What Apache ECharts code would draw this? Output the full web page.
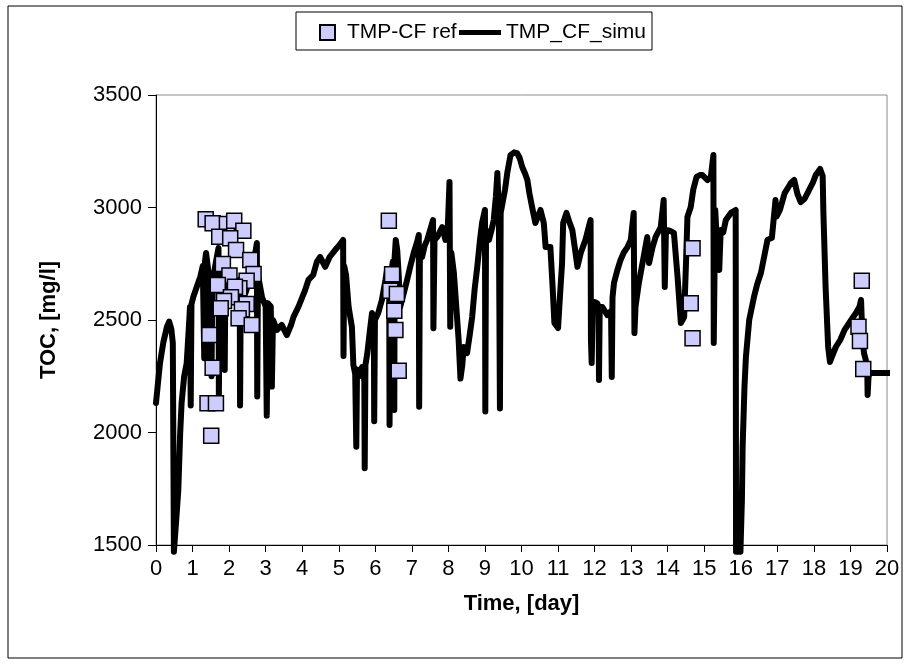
<!DOCTYPE html>
<html>
<head>
<meta charset="utf-8">
<script src="https://cdn.jsdelivr.net/npm/echarts@6/dist/echarts.min.js"></script>
<style>
  html, body { margin: 0; padding: 0; background: #fff; }
  #main { width: 910px; height: 666px; }
</style>
</head>
<body>
<div id="main"></div>
<script>
// measured TOC reference points [day, mg/l]
var refPoints = [
  [1.36, 2948], [1.55, 2930], [1.94, 2927], [2.14, 2941], [2.39, 2897],
  [1.73, 2870], [2.03, 2863], [2.19, 2811], [2.58, 2767], [1.83, 2749],
  [2.67, 2704], [2.01, 2698], [2.48, 2675], [1.69, 2656], [2.28, 2641],
  [2.16, 2648], [2.05, 2601], [1.86, 2584], [2.48, 2571], [1.77, 2552],
  [2.35, 2548], [2.26, 2508], [2.62, 2478], [1.46, 2433], [1.55, 2288],
  [1.41, 2130], [1.64, 2130], [1.51, 1986],
  [6.37, 2941], [6.46, 2703], [6.41, 2630], [6.59, 2616], [6.52, 2541],
  [6.55, 2456], [6.64, 2275],
  [14.68, 2819], [14.63, 2574], [14.68, 2419],
  [19.31, 2675], [19.22, 2470], [19.26, 2407], [19.35, 2282]
];

// simulated TOC [day, mg/l]
var simuPoints = [
  [0, 2131], [0.06, 2230], [0.11, 2309], [0.2, 2400], [0.3, 2470], [0.36, 2493],
  [0.42, 2460], [0.46, 2398], [0.49, 1470], [0.53, 1470], [0.57, 1650], [0.61, 1744],
  [0.66, 1990], [0.7, 2131], [0.77, 2250], [0.84, 2309], [0.9, 2470], [0.93, 2558],
  [0.95, 2120], [0.97, 2570], [1.02, 2602], [1.1, 2640], [1.21, 2691], [1.28, 2740],
  [1.32, 2330], [1.34, 2760], [1.37, 2798], [1.43, 2720], [1.45, 2270], [1.48, 2700],
  [1.52, 2250], [1.54, 2660], [1.62, 2740], [1.71, 2820], [1.72, 2160], [1.75, 2760],
  [1.84, 2700], [1.88, 2278], [1.9, 2690], [2.0, 2660], [2.1, 2700], [2.2, 2640],
  [2.29, 2680], [2.3, 2120], [2.32, 2660], [2.45, 2620], [2.6, 2700], [2.7, 2780],
  [2.76, 2842], [2.77, 2160], [2.79, 2700], [2.9, 2602], [3.0, 2560], [3.03, 2075],
  [3.06, 2575], [3.14, 2560], [3.17, 2204], [3.2, 2500], [3.31, 2456], [3.44, 2478],
  [3.58, 2433], [3.7, 2480], [3.76, 2513], [3.9, 2560], [4.08, 2633], [4.17, 2678],
  [4.3, 2700], [4.4, 2758], [4.49, 2780], [4.63, 2736], [4.75, 2780], [4.9, 2811],
  [5.02, 2833], [5.12, 2856],
  [5.13, 2340], [5.15, 2740], [5.2, 2700], [5.27, 2558], [5.36, 2469], [5.4, 2300],
  [5.45, 2260], [5.48, 1937], [5.5, 2280], [5.56, 2250], [5.64, 2291], [5.7, 2230],
  [5.71, 1841], [5.73, 2300], [5.78, 2350], [5.85, 2450], [5.91, 2531], [5.96, 2500],
  [5.97, 2050], [5.99, 2500], [6.08, 2531], [6.18, 2589], [6.28, 2680], [6.32, 2722],
  [6.38, 2690], [6.39, 2033], [6.41, 2678], [6.48, 2760], [6.51, 2740], [6.52, 2100],
  [6.53, 2780], [6.56, 2856], [6.6, 2810], [6.64, 2700], [6.68, 2558], [6.78, 2620],
  [6.87, 2678], [6.96, 2740], [7.05, 2798], [7.15, 2850], [7.19, 2878], [7.2, 2115],
  [7.22, 2800], [7.28, 2780], [7.35, 2830], [7.42, 2856], [7.5, 2900], [7.58, 2944],
  [7.59, 2463], [7.62, 2856], [7.7, 2870], [7.83, 2913], [7.92, 2856], [7.98, 2900],
  [8.03, 3113], [8.05, 2470], [8.08, 2800], [8.15, 2709], [8.22, 2550], [8.28, 2411],
  [8.33, 2240], [8.38, 2300], [8.42, 2380], [8.51, 2353], [8.58, 2430], [8.65, 2513],
  [8.72, 2640], [8.79, 2736], [8.86, 2850], [8.92, 2931], [9.0, 2989], [9.01, 2093],
  [9.03, 2900], [9.11, 2856], [9.18, 2900], [9.24, 2944], [9.3, 3050], [9.34, 3153],
  [9.38, 2980], [9.41, 2107], [9.43, 2976], [9.47, 2976], [9.55, 3080], [9.61, 3153],
  [9.7, 3233], [9.8, 3245], [9.88, 3242], [9.95, 3220], [10.02, 3180], [10.1, 3150],
  [10.16, 3122], [10.22, 3060], [10.29, 3002], [10.38, 2931], [10.45, 2960], [10.52, 2989],
  [10.61, 2931], [10.66, 2824], [10.79, 2824], [10.85, 2650], [10.9, 2487], [11.0, 2464],
  [11.05, 2600], [11.11, 2753], [11.14, 2931], [11.23, 2976], [11.3, 2940], [11.39, 2900],
  [11.46, 2820], [11.53, 2736], [11.62, 2798], [11.75, 2856], [11.85, 2920], [11.89, 2944],
  [11.9, 2411], [11.92, 2309], [11.95, 2560], [12.0, 2580], [12.07, 2575], [12.11, 2560],
  [12.12, 2233], [12.14, 2558], [12.21, 2558], [12.35, 2522], [12.45, 2540], [12.47, 2247],
  [12.49, 2600], [12.53, 2664], [12.62, 2720], [12.71, 2767], [12.8, 2800], [12.9, 2824],
  [12.99, 2856], [13.07, 2976], [13.09, 2442], [13.12, 2560], [13.21, 2664], [13.33, 2770],
  [13.44, 2869], [13.49, 2753], [13.58, 2820], [13.67, 2869], [13.81, 2913], [13.89, 3033],
  [13.92, 2647], [13.95, 2880], [13.99, 2900], [14.08, 2895], [14.17, 2887], [14.27, 2691],
  [14.36, 2487], [14.45, 2513], [14.5, 2750], [14.54, 2958], [14.63, 3002], [14.7, 3080],
  [14.79, 3136], [14.88, 3144], [14.95, 3144], [15.09, 3122], [15.18, 3136], [15.25, 3233],
  [15.26, 2398], [15.3, 2989], [15.36, 2800], [15.41, 2722], [15.45, 2900], [15.52, 2890],
  [15.59, 2944], [15.73, 2976], [15.86, 2989], [15.87, 1470], [15.99, 1470], [16.03, 1700],
  [16.05, 1936], [16.1, 2200], [16.14, 2336], [16.23, 2500], [16.36, 2602], [16.45, 2660],
  [16.55, 2709], [16.65, 2790], [16.73, 2856], [16.85, 2865], [16.9, 2869], [16.95, 3033],
  [16.98, 2960], [17.07, 2989], [17.2, 3064], [17.3, 3090], [17.37, 3109], [17.46, 3122],
  [17.55, 3060], [17.64, 3024], [17.75, 3040], [17.87, 3078], [17.97, 3110], [18.05, 3144],
  [18.17, 3171], [18.24, 3140], [18.26, 2976], [18.32, 2647], [18.39, 2380], [18.44, 2313],
  [18.5, 2340], [18.6, 2380], [18.72, 2411], [18.84, 2456], [19.02, 2500], [19.15, 2531],
  [19.25, 2560], [19.29, 2589], [19.31, 2500], [19.33, 2424], [19.37, 2353], [19.42, 2322],
  [19.46, 2280], [19.47, 2167], [19.5, 2264], [20.27, 2264]
];

var xTicks = { min: 0, max: 20, step: 1 };
var yTicks = { min: 1500, max: 3500, step: 500 };

var font = "'Liberation Sans', Arial, sans-serif";
var legendText = { fontSize: 21, color: '#000', fontFamily: font };

var myChart = echarts.init(document.getElementById('main'));

var option = {
  backgroundColor: '#fff',
  animation: false,
  textStyle: { fontFamily: font },
  graphic: [
    {
      type: 'rect',
      shape: { x: 8, y: 6, width: 894, height: 652 },
      style: { fill: 'none', stroke: '#000', lineWidth: 1 },
      silent: true
    },
    {
      type: 'rect',
      shape: { x: 296, y: 12, width: 356, height: 38 },
      style: { fill: 'none', stroke: '#000', lineWidth: 1 },
      silent: true
    }
  ],
  legend: [
    {
      left: 319,
      top: 22,
      padding: 0,
      itemWidth: 15,
      itemHeight: 15,
      textStyle: Object.assign({ padding: [0, 0, 0, 7] }, legendText),
      data: [{ name: 'TMP-CF ref', icon: 'rect' }]
    },
    {
      left: 459,
      top: 22,
      padding: 0,
      itemWidth: 42,
      itemHeight: 5,
      textStyle: legendText,
      data: [{ name: 'TMP_CF_simu', icon: 'rect', itemStyle: { color: '#000' } }]
    }
  ],
  grid: {
    left: 156,
    right: 23,
    top: 95,
    bottom: 121,
    show: true,
    borderColor: '#8c8c8c',
    borderWidth: 1
  },
  xAxis: {
    type: 'value',
    min: xTicks.min,
    max: xTicks.max,
    interval: xTicks.step,
    name: 'Time, [day]',
    nameLocation: 'middle',
    nameGap: 48,
    nameTextStyle: { fontSize: 22, fontWeight: 'bold', color: '#000', fontFamily: font },
    axisLine: { show: true, onZero: false, lineStyle: { color: '#000', width: 1 } },
    axisTick: { show: true, length: 7, lineStyle: { color: '#000' } },
    axisLabel: { fontSize: 22, color: '#000', margin: 13, fontFamily: font },
    splitLine: { show: false }
  },
  yAxis: {
    type: 'value',
    min: yTicks.min,
    max: yTicks.max,
    interval: yTicks.step,
    name: 'TOC, [mg/l]',
    nameLocation: 'middle',
    nameRotate: 90,
    nameGap: 96,
    nameTextStyle: { fontSize: 22, fontWeight: 'bold', color: '#000', fontFamily: font },
    axisLine: { show: true, lineStyle: { color: '#000', width: 1 } },
    axisTick: { show: true, length: 8, lineStyle: { color: '#000' } },
    axisLabel: {
      fontSize: 22, color: '#000', margin: 14, fontFamily: font,
      formatter: function (v) { return String(v); }
    },
    splitLine: { show: false }
  },
  series: [
    {
      name: 'TMP_CF_simu',
      type: 'line',
      data: simuPoints,
      symbol: 'none',
      showSymbol: false,
      clip: false,
      lineStyle: { color: '#000', width: 6, join: 'round', cap: 'round' },
      itemStyle: { color: '#000' },
      z: 2
    },
    {
      name: 'TMP-CF ref',
      type: 'scatter',
      data: refPoints,
      symbol: 'rect',
      symbolSize: 15,
      itemStyle: { color: '#ccccff', borderColor: '#000', borderWidth: 1.5, opacity: 1 },
      z: 3
    }
  ]
};

myChart.setOption(option);
</script>
</body>
</html>
